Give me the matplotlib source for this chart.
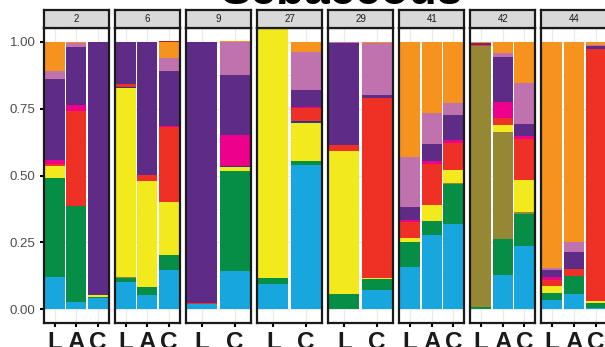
import matplotlib
matplotlib.use("Agg")
import matplotlib.pyplot as plt
import numpy as np

plt.rcParams["font.family"] = ["Liberation Sans", "DejaVu Sans"]

# facets and the samples shown in each
panels = ["2", "6", "9", "27", "29", "41", "42", "44"]
samples = [["L", "A", "C"], ["L", "A", "C"], ["L", "C"], ["L", "C"],
           ["L", "C"], ["L", "A", "C"], ["L", "A", "C"], ["L", "A", "C"]]

# relative abundance per component, one entry per bar in facet order
blue = [.122, .029, .041, .103, .054, .147, .019, .143, .095, .539, .003, .072,
        .158, .278, .319, 0, .128, .237, .035, .057, .005]
green = [.369, .357, .006, .015, .029, .056, 0, .374, .021, .015, .056, .043,
         .095, .052, .149, .009, .135, .119, .026, .068, .020]
olive = [0, 0, 0, .003, 0, 0, 0, 0, 0, 0, 0, 0,
         0, 0, .005, .976, .400, .008, 0, 0, 0]
yellow = [.044, 0, .005, .706, .398, .198, 0, .015, .980, .143, .533, .003,
          .015, .060, .048, 0, .026, .118, .025, 0, .005]
navy = [0, 0, 0, .005, 0, 0, 0, .003, 0, .007, 0, 0,
        0, 0, 0, 0, 0, 0, 0, 0, 0]
red = [.008, .355, 0, .010, .021, .281, .004, 0, 0, .049, .022, .672,
       .060, .153, .102, .003, .026, .154, .022, .026, .943]
magenta = [.015, .022, 0, 0, 0, .004, 0, .116, 0, .004, 0, 0,
           .006, .011, .010, 0, .060, .012, .014, 0, 0]
purple = [.304, .217, .945, .155, .496, .204, .975, .224, 0, .062, .382, .011,
          .048, .064, .093, .008, .168, .044, .025, .063, .011]
orchid = [.028, .015, 0, 0, .002, .049, 0, .124, 0, .141, .004, .195,
          .187, .115, .045, 0, .015, .154, .007, .036, .004]
orange = [.108, .005, 0, .003, 0, .060, 0, .004, 0, .040, 0, .004,
          .431, .267, .229, .004, .042, .154, .846, .750, .012]
darkred = [.002, 0, .003, 0, 0, .003, .002, 0, 0, 0, 0, 0,
           0, 0, 0, 0, 0, 0, 0, 0, 0]

layers = [blue, green, olive, yellow, navy, red, magenta, purple, orchid, orange, darkred]
colors = ["#17A6DE", "#078E46", "#958733", "#F2EA1C", "#2B3A8F", "#EE3124",
          "#EC008C", "#5E2B87", "#C072AE", "#F6921E", "#B41F24"]

W, H = 605, 347
fig = plt.figure(figsize=(W / 100, H / 100), dpi=100)

def px(x0, y0, x1, y1):
    return [x0 / W, 1 - y1 / H, (x1 - x0) / W, (y1 - y0) / H]

left0, pw, step = 43.7, 65.0, 71.1
strip_top, strip_bot, plot_bot = 10.0, 28.3, 322.7

idx = 0
for p, (name, labs) in enumerate(zip(panels, samples)):
    x0 = left0 + p * step
    ax = fig.add_axes(px(x0, strip_bot, x0 + pw, plot_bot))
    n = len(labs)
    xs = np.arange(n)
    # gridlines
    for yv in np.arange(0, 1.01, 0.125):
        major = abs((yv / 0.25) - round(yv / 0.25)) < 1e-6
        ax.axhline(yv, color="#EBEBEB", lw=1.0 if major else 0.5, zorder=0)
    for xv in xs:
        ax.axvline(xv, color="#EBEBEB", lw=1.0, zorder=0)
    bottoms = np.zeros(n)
    for vals, col in zip(layers, colors):
        v = np.array(vals[idx:idx + n])
        ax.bar(xs, v, bottom=bottoms, width=0.92, color=col, linewidth=0, zorder=2)
        bottoms += v
    idx += n
    ax.set_xlim(-0.5, n - 0.5)
    ax.set_ylim(-0.05, 1.05)
    ax.set_xticks(xs)
    ax.set_xticklabels(labs, fontsize=17.5, fontweight="bold", color="#1A1A1A")
    ax.tick_params(axis="x", length=3, width=1.5, color="black", pad=3)
    if p == 0:
        ax.set_yticks([0, 0.25, 0.5, 0.75, 1.0])
        ax.set_yticklabels(["0.00", "0.25", "0.50", "0.75", "1.00"],
                           fontsize=9.5, color="#4D4D4D")
        ax.tick_params(axis="y", length=3, width=1.5, color="black", pad=3)
    else:
        ax.set_yticks([])
    for s in ax.spines.values():
        s.set_linewidth(1.6)
        s.set_color("#1A1A1A")
    # facet strip
    sx = fig.add_axes(px(x0, strip_top, x0 + pw, strip_bot))
    sx.set_facecolor("#D9D9D9")
    sx.set_xticks([])
    sx.set_yticks([])
    for s in sx.spines.values():
        s.set_linewidth(1.6)
        s.set_color("#1A1A1A")
    sx.text(0.5, 0.5, name, ha="center", va="center", fontsize=7, color="#1A1A1A",
            transform=sx.transAxes)

fig.text(342 / W, 1 - 4.5 / H, "Sebaceous", ha="center", va="baseline",
         fontsize=33, fontweight="bold", color="black")

fig.savefig("out.png", dpi=100)
